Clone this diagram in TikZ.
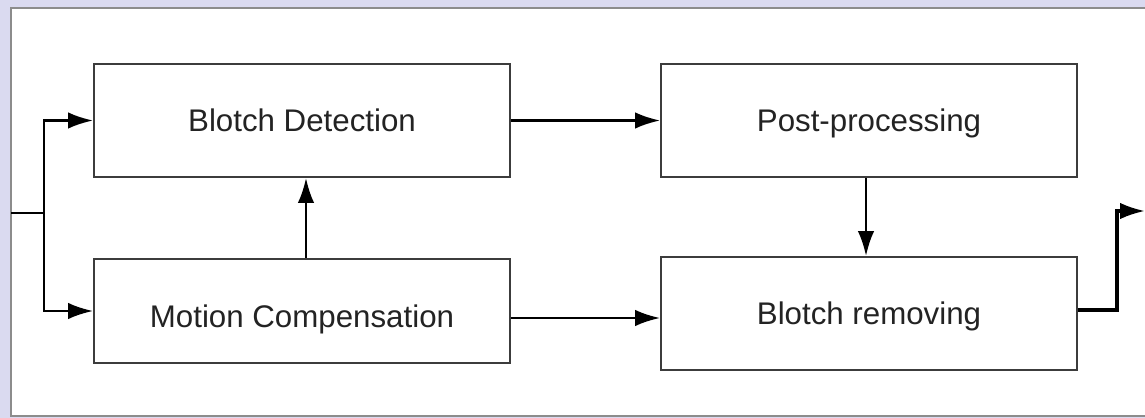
\documentclass[tikz,border=0pt]{standalone}
\usepackage{fontspec}
\setmainfont{Liberation Sans}
\usetikzlibrary{arrows.meta}
\definecolor{lavender}{RGB}{218,218,240}
\definecolor{framegray}{RGB}{140,140,140}
\definecolor{boxgray}{RGB}{60,60,60}
\definecolor{textgray}{RGB}{35,35,35}
\begin{document}
\begin{tikzpicture}[x=0.02cm,y=-0.02cm,
		box/.style={draw=boxgray, line width=1.1pt, minimum width=8.32cm, minimum height=2.26cm, text height=13pt, text depth=0pt, text=textgray, font=\fontsize{17.8}{20}\selectfont},
		flow/.style={line width=1.4pt, -{Latex[length=0.5cm,width=0.33cm]}}]
		% background and frame
		\fill[lavender] (0,0) rectangle (1145,418);
		\useasboundingbox (0,0) rectangle (1145,418);
		\draw[framegray, line width=1.2pt, fill=white] (11,8) rectangle (1160,416);
		
		\node[box] (BD) at (302,120.5) {Blotch Detection};
		\node[box] (PP) at (869,120.5) {Post-processing};
		\node[box, minimum height=2.08cm, text height=19.2pt] (MC) at (302,311) {Motion Compensation};
		\node[box] (BR) at (869,313.5) {Blotch removing};
		
		\coordinate (in) at (11,213);
		\coordinate (split) at (44,213);
		\coordinate (out) at (1145,211);
		
		\draw[line width=1.4pt] (in) -- (split);
		\draw[flow] (split) |- (BD.west);
		\draw[flow] (split) |- (MC.west);
		\draw[flow] (BD) -- (PP);
		\draw[flow] ([xshift=0.08cm]MC.north) -- ([xshift=0.08cm]BD.south);
		\draw[flow] ([xshift=-0.06cm]PP.south) -- ([xshift=-0.06cm]BR.north);
		\draw[flow] ([yshift=-0.14cm]MC.east) -- ([yshift=-0.14cm]MC.east -| BR.west);
		\draw[flow, line width=1.8pt] ([yshift=0.07cm]BR.east) -- ++(39,0) |- (out);
\end{tikzpicture}
\end{document}
